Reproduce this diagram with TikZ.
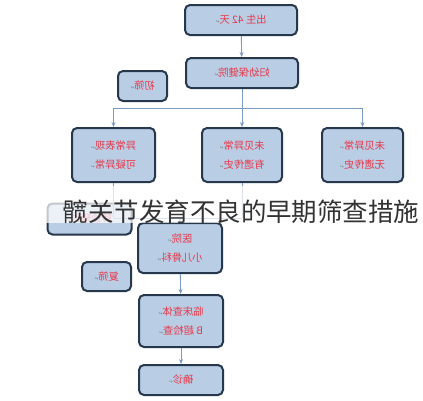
\documentclass[tikz,border=0pt]{standalone}
\usepackage{fontspec}
\usepackage{graphicx}
\setmainfont{Noto Sans CJK SC}
\newfontfamily\symfont{DejaVu Sans}
\usetikzlibrary{arrows.meta}
\definecolor{boxfill}{HTML}{B9CDE5}
\definecolor{boxdraw}{HTML}{27384C}
\definecolor{txtred}{HTML}{E8384A}
\definecolor{conn}{HTML}{7B9BC4}
\definecolor{titlecol}{HTML}{333333}
\newcommand{\pmark}{{\symfont\fontsize{5}{5}\selectfont\textcolor{gray}{↵}}}
\newcommand{\mirtext}[1]{\reflectbox{\begin{tabular}{@{}c@{}}#1\end{tabular}}}
\tikzset{
  fbox/.style={draw=boxdraw, line width=2pt, fill=boxfill, rounded corners=5pt,
    text=txtred, inner sep=0pt, font=\fontsize{10.3}{19}\selectfont},
  conline/.style={draw=conn, line width=0.9pt},
  conarrow/.style={conline, -{Stealth[length=5pt,width=4pt]}}
}
\begin{document}
\begin{tikzpicture}[x=1pt,y=-1pt]
\useasboundingbox (0,0) rectangle (423,400);
\fill[white] (0,0) rectangle (423,400);
% nodes
\node[fbox, minimum width=112pt, minimum height=30pt] (n1) at (241,20) {\mirtext{出生 42 天\pmark}};
\node[fbox, minimum width=112pt, minimum height=30pt] (n2) at (242,73) {\mirtext{妇幼保健院\pmark}};
\node[fbox, minimum width=49pt, minimum height=30pt] (s1) at (142.5,86) {\mirtext{初筛\pmark}};
\node[fbox, minimum width=83pt, minimum height=54pt] (b1) at (113.5,155) {\mirtext{异常表现\pmark\\可疑异常\pmark}};
\node[fbox, minimum width=80pt, minimum height=54pt] (b2) at (242,155) {\mirtext{未见异常\pmark\\有遗传史\pmark}};
\node[fbox, minimum width=81pt, minimum height=54pt] (b3) at (362.5,155) {\mirtext{未见异常\pmark\\无遗传史\pmark}};
\node[fbox, minimum width=84pt, minimum height=31pt] (b4) at (89.5,219) {\mirtext{转诊预约\pmark}};
\node[fbox, minimum width=84pt, minimum height=50pt] (h1) at (180,248) {\mirtext{医院\pmark\\小儿骨科\pmark}};
\node[fbox, minimum width=49pt, minimum height=29pt] (s2) at (106.5,276.5) {\mirtext{复筛\pmark}};
\node[fbox, minimum width=84pt, minimum height=52pt] (h2) at (181,321) {\mirtext{临床查体\pmark\\B 超检查\pmark}};
\node[fbox, minimum width=84pt, minimum height=30pt] (h3) at (181,380) {\mirtext{确诊\pmark}};
% connectors
\coordinate (j0) at (242,108);
\coordinate (jl) at (113.5,108);
\coordinate (jr) at (362.5,108);
\coordinate (k1) at (113.5,218);
\coordinate (k2) at (242,218);
\coordinate (k0) at (180,218);
\draw[conarrow] (n1) -- (n2);
\draw[conline] (n2) -- (j0);
\draw[conline] (jl) -- (jr);
\draw[conarrow] (jl) -- (b1);
\draw[conarrow] (j0) -- (b2);
\draw[conarrow] (jr) -- (b3);
\draw[conline] (b1) -- (k1);
\draw[conline] (b2) -- (k2);
\draw[conline] (k1) -- (k2);
\draw[conarrow] (k0) -- (h1);
\draw[conarrow] (h1) -- (h2);
\draw[conarrow] (h2) -- (h3);
% white band and title
\fill[white, opacity=0.72] (0,186) rectangle (423,223);
\node[text=titlecol, font=\fontsize{25.5}{26}\selectfont, inner sep=0pt, anchor=base] (title) at (241,221) {髋关节发育不良的早期筛查措施};
\end{tikzpicture}
\end{document}
